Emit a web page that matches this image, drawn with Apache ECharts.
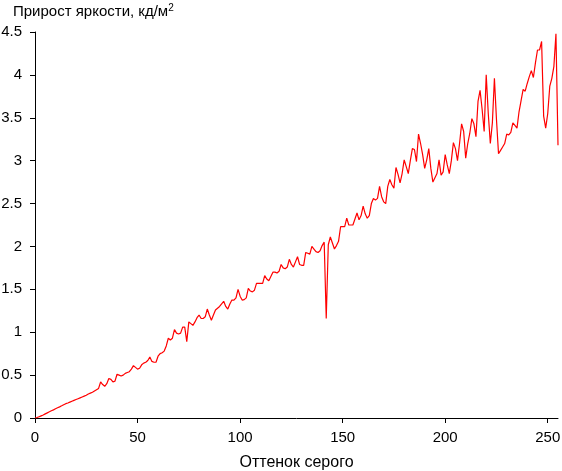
<!DOCTYPE html>
<html>
<head>
<meta charset="utf-8">
<script src="https://cdn.jsdelivr.net/npm/echarts@6/dist/echarts.min.js"></script>
<style>
  html, body { margin: 0; padding: 0; background: #fff; }
  #chart { width: 562px; height: 471px; }
</style>
</head>
<body>
<div id="chart"></div>
<script>
// оттенок серого 0..255, прирост яркости (кд/м2)
const xTicks = [0, 50, 100, 150, 200, 250]
const yTicks = [0, 0.5, 1, 1.5, 2, 2.5, 3, 3.5, 4, 4.5]
const gray = Array.from({ length: 256 }, (_, i) => i)
const gain = [
  0, 0.005, 0.015, 0.025, 0.035, 0.048, 0.06, 0.072, 0.085, 0.095,
  0.108, 0.12, 0.13, 0.142, 0.155, 0.167, 0.175, 0.185, 0.195, 0.205,
  0.215, 0.225, 0.235, 0.245, 0.255, 0.265, 0.28, 0.29, 0.30, 0.315,
  0.33, 0.345, 0.42, 0.39, 0.37, 0.40, 0.46, 0.45, 0.42, 0.43,
  0.51, 0.50, 0.49, 0.50, 0.52, 0.53, 0.54, 0.57, 0.61, 0.59,
  0.57, 0.58, 0.62, 0.64, 0.65, 0.67, 0.71, 0.66, 0.65, 0.65,
  0.72, 0.75, 0.76, 0.78, 0.84, 0.93, 0.91, 0.93, 1.03, 0.99,
  0.98, 0.99, 1.06, 1.06, 0.89, 1.12, 1.10, 1.08, 1.12, 1.17,
  1.20, 1.16, 1.16, 1.18, 1.27, 1.20, 1.14, 1.20, 1.26, 1.28,
  1.30, 1.33, 1.36, 1.30, 1.27, 1.33, 1.375, 1.375, 1.40, 1.50,
  1.42, 1.375, 1.38, 1.40, 1.51, 1.48, 1.47, 1.49, 1.57, 1.57,
  1.57, 1.57, 1.66, 1.62, 1.60, 1.65, 1.70, 1.70, 1.69, 1.71,
  1.79, 1.75, 1.74, 1.76, 1.85, 1.79, 1.76, 1.82, 1.88, 1.79,
  1.78, 1.78, 1.93, 1.92, 1.91, 2.00, 1.97, 1.94, 1.93, 1.95,
  2.01, 2.05, 1.16, 2.02, 2.11, 2.04, 1.97, 2.01, 2.06, 2.23,
  2.23, 2.23, 2.33, 2.25, 2.25, 2.25, 2.32, 2.39, 2.31, 2.36,
  2.47, 2.38, 2.33, 2.36, 2.50, 2.56, 2.54, 2.56, 2.70, 2.58,
  2.52, 2.50, 2.70, 2.78, 2.72, 2.68, 2.92, 2.84, 2.74, 2.85,
  3.01, 2.93, 2.85, 3.00, 3.14, 3.13, 2.99, 3.31, 3.20, 3.07,
  2.91, 3.01, 3.14, 2.91, 2.75, 2.80, 2.85, 3.01, 2.83, 2.87,
  3.07, 2.95, 2.85, 3.00, 3.21, 3.14, 3.00, 3.20, 3.43, 3.34,
  3.03, 3.20, 3.32, 3.49, 3.43, 3.28, 3.69, 3.82, 3.60, 3.34,
  4.00, 3.55, 3.20, 3.44, 3.96, 3.48, 3.08, 3.12, 3.16, 3.20,
  3.31, 3.30, 3.33, 3.44, 3.41, 3.38, 3.57, 3.70, 3.83, 3.81,
  3.90, 3.98, 4.05, 3.97, 4.14, 4.29, 4.29, 4.39, 3.52, 3.38,
  3.55, 3.87, 3.96, 4.10, 4.48, 3.18
]

const font = 'Liberation Sans, Arial, sans-serif'
const chart = echarts.init(document.getElementById('chart'))

chart.setOption({
  animation: false,
  backgroundColor: '#fff',
  title: {
    text: 'Прирост яркости, кд/м{sup|2}',
    left: 13,
    top: 0,
    padding: [3, 0, 0, 0],
    textStyle: {
      fontFamily: font,
      fontSize: 15,
      fontWeight: 'normal',
      color: '#000',
      rich: {
        sup: { fontSize: 10, verticalAlign: 'top', padding: [0, 0, 8, 0], fontFamily: font, color: '#000' }
      }
    }
  },
  grid: { left: 35, right: 4, top: 32, bottom: 53, outerBoundsMode: 'none', containLabel: false },
  xAxis: {
    type: 'value',
    min: xTicks[0],
    max: 255,
    interval: 50,
    name: 'Оттенок серого',
    nameLocation: 'middle',
    nameGap: 37,
    nameTextStyle: { fontFamily: font, fontSize: 16, color: '#000' },
    axisLine: { lineStyle: { color: '#000', width: 1 } },
    axisTick: { length: 5, lineStyle: { color: '#000' } },
    axisLabel: { fontFamily: font, fontSize: 15, color: '#000', margin: 12, showMaxLabel: false },
    splitLine: { show: false }
  },
  yAxis: {
    type: 'value',
    min: yTicks[0],
    max: yTicks[yTicks.length - 1],
    interval: 0.5,
    axisLine: { show: true, lineStyle: { color: '#000', width: 1 } },
    axisTick: { show: true, length: 5, lineStyle: { color: '#000' } },
    axisLabel: { fontFamily: font, fontSize: 15, color: '#000', margin: 13 },
    splitLine: { show: false }
  },
  series: [{
    type: 'line',
    data: gray.map((g, i) => [g, gain[i]]),
    showSymbol: false,
    symbol: 'none',
    lineStyle: { color: '#ff0000', width: 1.2 },
    z: 3
  }]
})
</script>
</body>
</html>
